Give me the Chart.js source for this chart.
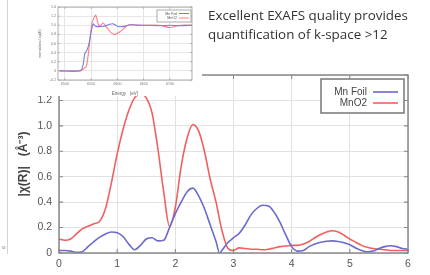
<!DOCTYPE html>
<html>
<head>
<meta charset="utf-8">
<script src="https://cdn.jsdelivr.net/npm/chart.js@4.4.1/dist/chart.umd.min.js"></script>
<style>
  html, body { margin: 0; padding: 0; background: #fff; }
  #wrap { position: relative; width: 430px; height: 275px; overflow: hidden; background: #fff; }
  #main { position: absolute; left: 0; top: 0; }
  #inset { position: absolute; left: 34px; top: 0; background: #fff; }
  #note { position: absolute; left: 208px; top: 6px; font-family: "Open Sans", sans-serif; font-size: 13.4px; line-height: 19px; color: #333; white-space: nowrap; }
  #edge { position: absolute; left: 7px; top: 0; width: 1px; height: 254px; background: #d4d4d4; }
  #dot { position: absolute; left: 2px; top: 244px; font-family: "Liberation Sans", sans-serif; font-size: 6px; color: #777; }
</style>
</head>
<body>
<div id="wrap">
  <div id="edge"></div>
  <div id="dot">o</div>
  <canvas id="main" width="430" height="275"></canvas>
  <canvas id="inset" width="168" height="96"></canvas>
  <div id="note">Excellent EXAFS quality provides<br>quantification of k-space &gt;12</div>
</div>
<script>
// ---- Main chart data: |chi(R)| vs R ----
const rValues = [0,0.1,0.2,0.3,0.4,0.5,0.6,0.7,0.8,0.9,1.0,1.1,1.2,1.3,1.4,1.5,1.6,1.7,1.8,1.9,2.0,2.1,2.2,2.3,2.4,2.5,2.6,2.7,2.8,2.9,3.0,3.1,3.2,3.3,3.4,3.5,3.6,3.7,3.8,3.9,4.0,4.1,4.2,4.3,4.4,4.5,4.6,4.7,4.8,4.9,5.0,5.1,5.2,5.3,5.4,5.5,5.6,5.7,5.8,5.9,6.0];
const mnO2 = [0.11,0.10,0.11,0.15,0.19,0.21,0.23,0.25,0.35,0.55,0.78,0.97,1.12,1.22,1.25,1.22,1.10,0.82,0.48,0.21,0.36,0.68,0.90,1.01,0.96,0.80,0.58,0.40,0.18,0.04,0.02,0.04,0.035,0.03,0.03,0.025,0.03,0.04,0.05,0.055,0.06,0.06,0.07,0.09,0.12,0.145,0.165,0.175,0.165,0.14,0.11,0.085,0.06,0.045,0.035,0.03,0.025,0.02,0.02,0.02,0.02];
const mnFoilR = [0,0.1,0.2,0.3,0.4,0.5,0.6,0.7,0.8,0.9,1.0,1.1,1.2,1.3,1.4,1.5,1.6,1.7,1.8,1.9,2.0,2.1,2.2,2.3,2.4,2.5,2.6,2.7,2.76,2.8,2.9,3.0,3.1,3.2,3.3,3.4,3.5,3.6,3.7,3.8,3.9,4.0,4.1,4.2,4.3,4.4,4.5,4.6,4.7,4.8,4.9,5.0,5.1,5.2,5.3,5.4,5.5,5.6,5.7,5.8,5.9,6.0];
const mnFoil = [0.02,0.02,0.015,0.005,0.01,0.05,0.09,0.125,0.15,0.165,0.16,0.13,0.07,0.026,0.06,0.11,0.12,0.095,0.10,0.20,0.31,0.40,0.48,0.51,0.45,0.35,0.22,0.09,0.0,0.02,0.08,0.12,0.155,0.22,0.30,0.35,0.375,0.37,0.32,0.24,0.14,0.05,0.015,0.02,0.05,0.07,0.085,0.093,0.095,0.09,0.08,0.065,0.04,0.02,0.01,0.015,0.035,0.05,0.057,0.05,0.035,0.03];
const xTicks = [0,1,2,3,4,5,6];
const yTicks = [0,0.2,0.4,0.6,0.8,1,1.2,1.4];

// ---- Inset data: normalized mu(E) vs energy ----
const eFoil = [6490,6530,6535,6538,6542,6546,6550,6554,6558,6565,6575,6585,6592,6600,6610,6625,6640,6660,6680,6700,6720,6742];
const muFoil = [0,0.01,0.15,0.38,0.45,0.6,0.85,1.03,0.98,0.97,0.98,1.02,1.03,0.98,0.97,1.01,1.0,1.0,0.99,1.0,0.99,1.0];
const eMnO2 = [6490,6530,6536,6541,6546,6551,6555,6559,6564,6568,6573,6580,6588,6595,6605,6620,6630,6650,6680,6700,6720,6742];
const muMnO2 = [0,0.0,0.05,0.1,0.5,1.0,1.15,1.22,1.0,1.0,1.05,0.95,0.84,0.8,0.86,1.0,1.01,1.0,1.0,0.95,1.0,1.0];
const eTicks = [6500,6550,6600,6650,6700];
const muTicks = [-0.2,0,0.2,0.4,0.6,0.8,1,1.2,1.4];

const seriesLabels = ['Mn Foil', 'MnO2'];
const seriesColors = ['#6a6ad0', '#f06060'];

function pts(xs, ys) { return xs.map((x, i) => ({x: x, y: ys[i]})); }

function framePlugin(tickLen, color, lw) {
  return {
    id: 'frame',
    afterDatasetsDraw(chart) {
      const {ctx, chartArea: a, scales} = chart;
      ctx.save();
      ctx.strokeStyle = color;
      ctx.lineWidth = lw;
      ctx.strokeRect(a.left, a.top, a.right - a.left, a.bottom - a.top);
      ctx.lineWidth = Math.max(0.6, lw * 0.7);
      ctx.beginPath();
      scales.x.ticks.forEach(t => {
        const px = scales.x.getPixelForValue(t.value);
        ctx.moveTo(px, a.bottom); ctx.lineTo(px, a.bottom - tickLen);
        ctx.moveTo(px, a.top); ctx.lineTo(px, a.top + tickLen);
      });
      scales.y.ticks.forEach(t => {
        const py = scales.y.getPixelForValue(t.value);
        ctx.moveTo(a.left, py); ctx.lineTo(a.left + tickLen, py);
        ctx.moveTo(a.right, py); ctx.lineTo(a.right - tickLen, py);
      });
      ctx.stroke();
      ctx.restore();
    }
  };
}

function legendPlugin(o) {
  return {
    id: 'boxLegend',
    afterDraw(chart) {
      const {ctx, chartArea: a} = chart;
      const bx = a.right - o.fromRight, by = a.top + o.top;
      ctx.save();
      ctx.fillStyle = '#fff';
      ctx.fillRect(bx, by, o.w, o.h);
      ctx.strokeStyle = o.border;
      ctx.lineWidth = o.borderW;
      ctx.strokeRect(bx, by, o.w, o.h);
      ctx.font = o.font;
      ctx.textAlign = 'right';
      ctx.textBaseline = 'middle';
      chart.data.datasets.forEach((ds, i) => {
        const y = by + o.firstY + i * o.rowH;
        ctx.fillStyle = o.textColor;
        ctx.fillText(ds.label, bx + o.textRight, y);
        ctx.strokeStyle = ds.borderColor;
        ctx.lineWidth = o.lineW;
        ctx.beginPath();
        ctx.moveTo(bx + o.lineX0, y); ctx.lineTo(bx + o.lineX1, y);
        ctx.stroke();
      });
      ctx.restore();
    }
  };
}

new Chart(document.getElementById('main'), {
  type: 'line',
  data: {
    datasets: [
      { label: seriesLabels[0], data: pts(mnFoilR, mnFoil), borderColor: seriesColors[0], borderWidth: 1.6, pointRadius: 0, fill: false, cubicInterpolationMode: 'monotone' },
      { label: seriesLabels[1], data: pts(rValues, mnO2), borderColor: seriesColors[1], borderWidth: 1.6, pointRadius: 0, fill: false, cubicInterpolationMode: 'monotone' }
    ]
  },
  options: {
    responsive: false,
    animation: false,
    layout: { padding: { top: 75, right: 22, left: 0, bottom: 0 } },
    plugins: { legend: { display: false }, tooltip: { enabled: false } },
    scales: {
      x: {
        type: 'linear', min: 0, max: 6,
        afterBuildTicks: s => { s.ticks = xTicks.map(v => ({value: v})); },
        afterFit: s => { s.height = 22; },
        ticks: { color: '#555', padding: 5, font: { family: 'Liberation Sans', size: 10.5 } },
        grid: { color: '#e2e2e2', drawTicks: false },
        border: { display: false }
      },
      y: {
        type: 'linear', min: 0, max: 1.4,
        afterBuildTicks: s => { s.ticks = yTicks.map(v => ({value: v})); },
        afterFit: s => { s.width = 59; },
        ticks: { color: '#555', padding: 7, font: { family: 'Liberation Sans', size: 10.5 } },
        grid: { color: '#e2e2e2', drawTicks: false },
        border: { display: false },
        title: { display: true, text: '|χ(R)|   (Å⁻³)', color: '#444', font: { family: 'Liberation Sans', size: 12, weight: 'bold' }, padding: { top: 16, bottom: 0 } }
      }
    }
  },
  plugins: [framePlugin(4, '#888', 1.5), legendPlugin({
    fromRight: 87, top: 4, w: 83, h: 34, border: '#777', borderW: 1.5,
    font: '10px "Liberation Sans"', textColor: '#444', textRight: 46, firstY: 13, rowH: 11,
    lineX0: 52, lineX1: 77, lineW: 1.6
  })]
});

new Chart(document.getElementById('inset'), {
  type: 'line',
  data: {
    datasets: [
      { label: seriesLabels[0], data: pts(eFoil, muFoil), borderColor: '#7a7ae0', borderWidth: 1.1, pointRadius: 0, fill: false, tension: 0.3 },
      { label: seriesLabels[1], data: pts(eMnO2, muMnO2), borderColor: '#ff7f7f', borderWidth: 1.1, pointRadius: 0, fill: false, tension: 0.3 }
    ]
  },
  options: {
    responsive: false,
    animation: false,
    layout: { padding: { top: 7, right: 10, left: 0, bottom: 0 } },
    plugins: { legend: { display: false }, tooltip: { enabled: false } },
    scales: {
      x: {
        type: 'linear', min: 6487, max: 6742,
        afterBuildTicks: s => { s.ticks = eTicks.map(v => ({value: v})); },
        afterFit: s => { s.height = 16; },
        ticks: { color: '#777', padding: 2, font: { family: 'Liberation Sans', size: 3.6 }, callback: v => String(v) },
        grid: { color: '#e6e6e6', drawTicks: false },
        border: { display: false },
        title: { display: true, text: 'Energy   (eV)', color: '#666', font: { family: 'Liberation Sans', size: 4.5 }, padding: { top: 1, bottom: 0 } }
      },
      y: {
        type: 'linear', min: -0.2, max: 1.4,
        afterBuildTicks: s => { s.ticks = muTicks.map(v => ({value: v})); },
        afterFit: s => { s.width = 24; },
        ticks: { color: '#777', padding: 2, font: { family: 'Liberation Sans', size: 3.6 } },
        grid: { color: '#e6e6e6', drawTicks: false },
        border: { display: false },
        title: { display: true, text: 'normalized xμ(E)', color: '#666', font: { family: 'Liberation Sans', size: 3.8 }, padding: { top: 4, bottom: 0 } }
      }
    }
  },
  plugins: [framePlugin(2, '#999', 0.8), legendPlugin({
    fromRight: 35, top: 3, w: 34, h: 12, border: '#888', borderW: 0.7,
    font: '3.6px "Liberation Sans"', textColor: '#555', textRight: 20, firstY: 3.5, rowH: 4.5,
    lineX0: 22, lineX1: 32, lineW: 1
  })]
});
</script>
</body>
</html>
